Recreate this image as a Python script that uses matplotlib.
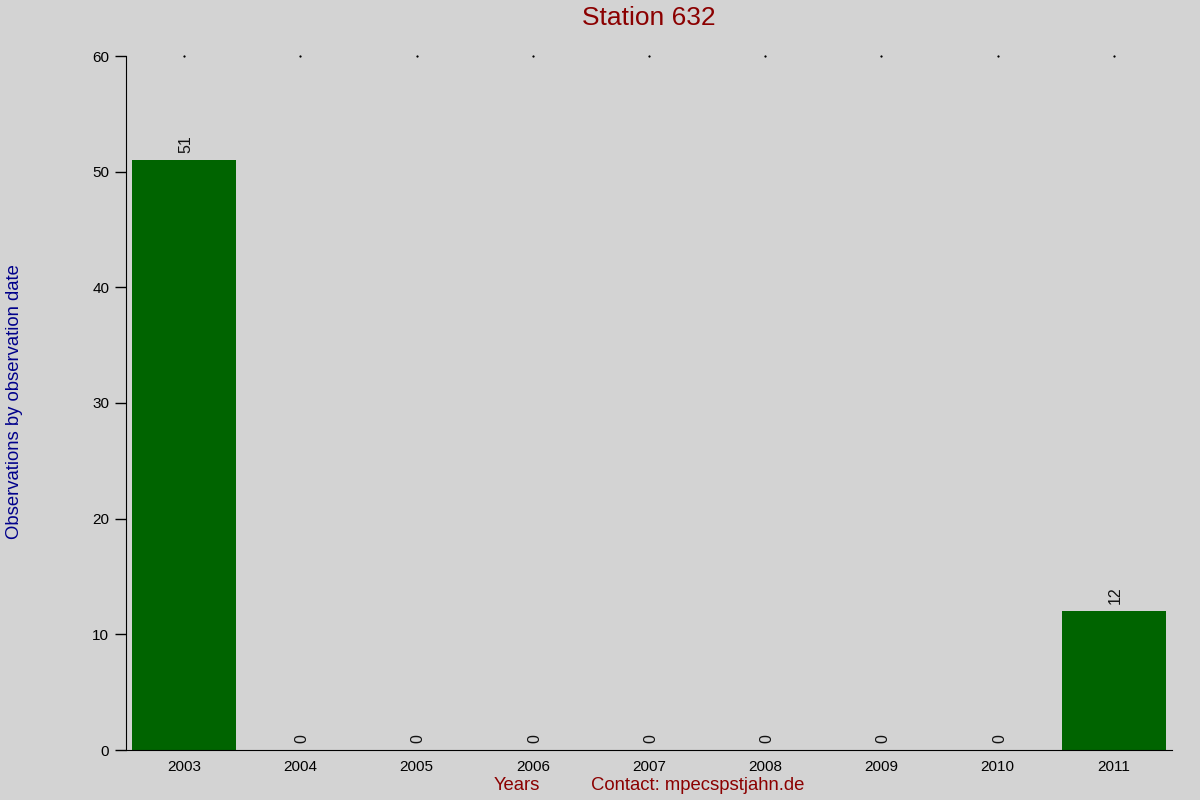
import matplotlib
matplotlib.use("Agg")
import matplotlib.pyplot as plt

years = ["2003", "2004", "2005", "2006", "2007", "2008", "2009", "2010", "2011"]
counts = [51, 0, 0, 0, 0, 0, 0, 0, 12]
yticks = [0, 10, 20, 30, 40, 50, 60]

plt.rcParams['font.family'] = ['Liberation Sans', 'DejaVu Sans']

fig = plt.figure(figsize=(12, 8), dpi=100, facecolor='#d3d3d3')
ax = fig.add_axes([0.105, 0.0625, 0.8717, 0.8675])
ax.set_facecolor('#d3d3d3')

x = list(range(len(years)))
ax.bar(x, counts, width=0.9, color='#006400')
for xi, c in zip(x, counts):
    ax.text(xi + 0.015, c + 0.6, str(c), rotation=90, ha='center', va='bottom', fontsize=11.5, color='#111111')

# tiny dots along the top
ax.plot(x, [60] * len(x), linestyle='none', marker='s', markersize=0.6, color='black', clip_on=False)

ax.set_xlim(-0.5, 8.5)
ax.set_ylim(0, 60)
ax.set_xticks(x)
ax.set_xticklabels(years, fontsize=11)
ax.set_yticks(yticks)
ax.set_yticklabels([str(v) for v in yticks], fontsize=11)
ax.tick_params(axis='x', length=0, pad=7)
ax.tick_params(axis='y', length=8, width=1, pad=4)

ax.spines['top'].set_visible(False)
ax.spines['right'].set_visible(False)

fig.text(0.541, 0.978, "Station 632", ha='center', va='center', fontsize=19, color='#8b0000')
fig.text(0.0125, 0.4985, "Observations by observation date", rotation=90, ha='center', va='center',
         fontsize=13.3, color='#00008b')
fig.text(0.431, 0.018, "Years", ha='center', va='center', fontsize=13.3, color='#8b0000')
fig.text(0.581, 0.018, "Contact: mpecspstjahn.de", ha='center', va='center', fontsize=13.3, color='#8b0000')

fig.savefig("out.png", dpi=100, facecolor=fig.get_facecolor())
